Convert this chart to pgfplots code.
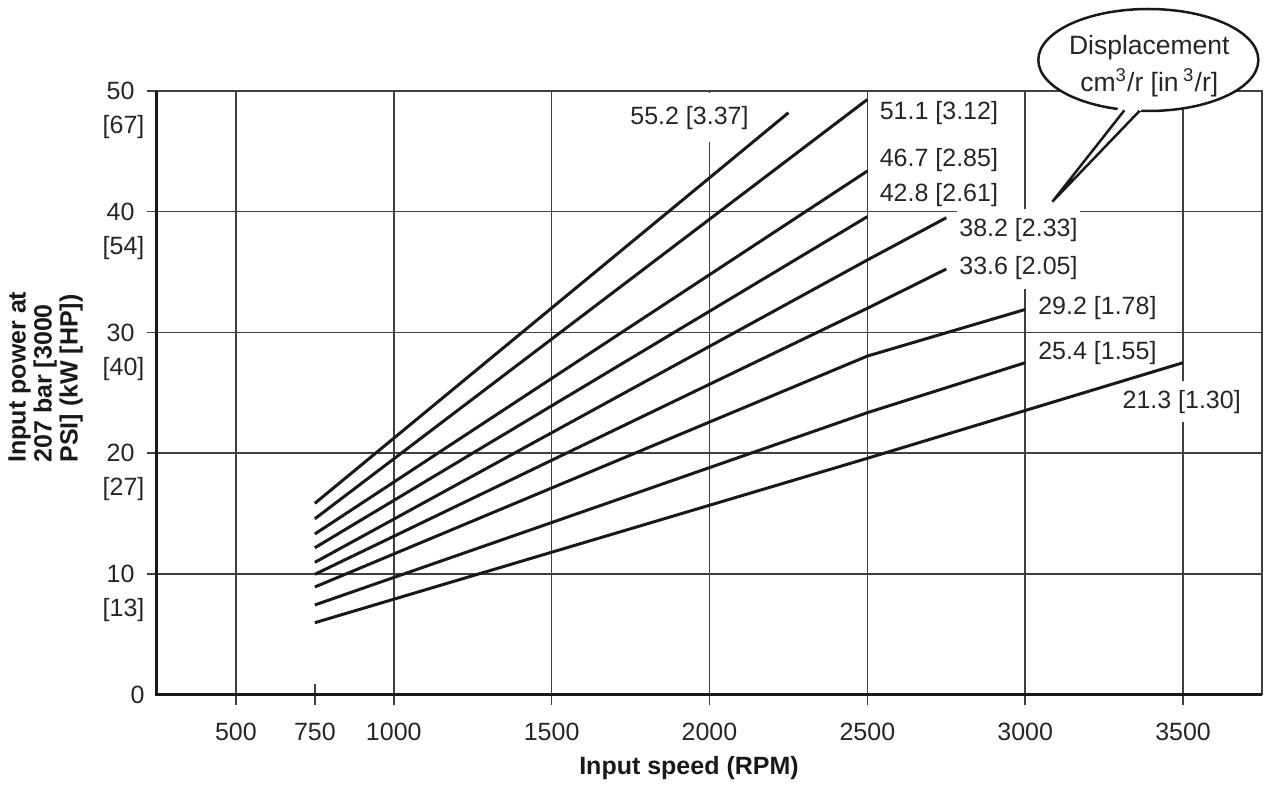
\documentclass[border=0pt]{standalone}
\usepackage{fontspec}
\setmainfont{Liberation Sans}
\usepackage{pgfplots}
\pgfplotsset{compat=1.18}
\begin{document}
\begin{tikzpicture}
\useasboundingbox (-62.8pt,-36.2pt) rectangle (445.2pt,277.8pt);
\begin{axis}[
  at={(0,0)}, anchor=south west,
  scale only axis, width=442pt, height=241.4pt,
  xmin=250, xmax=3750, ymin=0, ymax=50,
  xtick={500,1000,1500,2000,2500,3000,3500},
  xticklabels={500,1000,1500,2000,2500,3000,3500},
  extra x ticks={750}, extra x tick labels={750},
  extra x tick style={grid=none},
  ytick={10,20,30,40,50}, yticklabels={10,20,30,40,50},
  extra y ticks={0,7,17,27,37,47},
  extra y tick labels={0,{[13]},{[27]},{[40]},{[54]},{[67]}},
  extra y tick style={grid=none, major tick length=0pt},
  tick pos=left,
  tick align=outside, major tick length=4pt,
  grid=major, major grid style={line width=0.6pt, color=black!75},
  axis line style={line width=0.6pt, black!75},
  tick style={line width=0.6pt, black!75},
  ticklabel style={font=\fontsize{10}{12}\selectfont, text=black!85},
  xticklabel style={yshift=-4pt},
  yticklabel style={xshift=-1.5pt},
  /pgf/number format/assume math mode=true,
  clip=false,
]
% labels (drawn below the lines)
\node[anchor=west, fill=white, inner xsep=1pt, inner ysep=5pt, font=\fontsize{10}{12}\selectfont, text=black!85] at (axis cs:1740,47.8) {55.2 [3.37]};
\node[anchor=west, inner xsep=1pt, font=\fontsize{10}{12}\selectfont, text=black!85] at (axis cs:2530,48.2) {51.1 [3.12]};
\node[anchor=west, inner xsep=1pt, font=\fontsize{10}{12}\selectfont, text=black!85] at (axis cs:2530,44.3) {46.7 [2.85]};
\node[anchor=west, inner xsep=1pt, font=\fontsize{10}{12}\selectfont, text=black!85] at (axis cs:2530,41.4) {42.8 [2.61]};
\node[anchor=west, fill=white, inner xsep=1pt, inner ysep=3.5pt, font=\fontsize{10}{12}\selectfont, text=black!85] at (axis cs:2782,38.5) {38.2 [2.33]};
\node[anchor=west, fill=white, inner xsep=1pt, inner ysep=3.5pt, font=\fontsize{10}{12}\selectfont, text=black!85] at (axis cs:2782,35.3) {33.6 [2.05]};
\node[anchor=west, inner xsep=1pt, font=\fontsize{10}{12}\selectfont, text=black!85] at (axis cs:3032,32.0) {29.2 [1.78]};
\node[anchor=west, inner xsep=1pt, font=\fontsize{10}{12}\selectfont, text=black!85] at (axis cs:3032,28.3) {25.4 [1.55]};
\node[anchor=west, fill=white, inner xsep=1pt, inner ysep=3.5pt, font=\fontsize{10}{12}\selectfont, text=black!85] at (axis cs:3299,24.26) {21.3 [1.30]};
% displacement curves
\addplot[black!90, line width=1.2pt, mark=none] coordinates {(750,15.84) (2250,48.2)};
\addplot[black!90, line width=1.2pt, mark=none] coordinates {(750,14.56) (2500,49.3)};
\addplot[black!90, line width=1.2pt, mark=none] coordinates {(750,13.30) (2500,43.37)};
\addplot[black!90, line width=1.2pt, mark=none] coordinates {(750,12.16) (2500,39.59)};
\addplot[black!90, line width=1.2pt, mark=none] coordinates {(750,10.95) (2500,36.0) (2750,39.5)};
\addplot[black!90, line width=1.2pt, mark=none] coordinates {(750,9.96) (2500,32.0) (2750,35.25)};
\addplot[black!90, line width=1.2pt, mark=none] coordinates {(750,8.91) (2500,28.04) (3000,31.9)};
\addplot[black!90, line width=1.2pt, mark=none] coordinates {(750,7.42) (2500,23.35) (3000,27.49)};
\addplot[black!90, line width=1.2pt, mark=none] coordinates {(750,5.95) (2500,19.57) (3500,27.49)};
% frame
\draw[line width=0.6pt, black!75] (rel axis cs:0,0) rectangle (rel axis cs:1,1);
\draw[line width=0.6pt, black!75] (axis cs:750,-0.83) -- (axis cs:750,0.83);
\draw[line width=1.2pt, black!90] (rel axis cs:0,1) -- (rel axis cs:0,0) -- (rel axis cs:1,0);
% callout
\draw[line width=1pt, black!90, fill=white] (axis cs:3390,52.57) ellipse [x radius=44pt, y radius=20.4pt];
\fill[white] (axis cs:3300,48.75) -- (axis cs:3086,40.83) -- (axis cs:3380,48.75) -- cycle;
\draw[line width=1pt, black!90, line join=miter] (axis cs:3314,48.4) -- (axis cs:3086,40.83) -- (axis cs:3362,48.35);
\node[font=\fontsize{10.6}{12}\selectfont, text=black!85] at (axis cs:3393,53.6) {Displacement};
\node[font=\fontsize{10.6}{12}\selectfont, text=black!85] at (axis cs:3393,50.7) {cm\textsuperscript{3}/r [in\,\textsuperscript{3}/r]};
\end{axis}
\node[rotate=90, anchor=north west, align=left, inner sep=0pt, font=\bfseries\fontsize{10}{10.4}\selectfont, text=black!90] at (-59.6pt,92.6pt) {Input power at\\207 bar [3000\\PSI] (kW [HP])};
\node[font=\bfseries\fontsize{10}{12}\selectfont, text=black!90] at (212.8pt,-29.4pt) {Input speed (RPM)};
\end{tikzpicture}
\end{document}
